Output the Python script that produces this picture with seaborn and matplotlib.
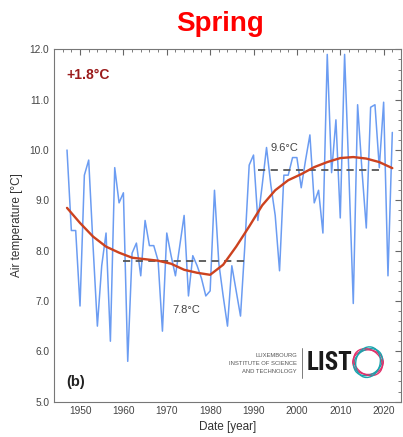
import matplotlib
matplotlib.use("Agg")
import matplotlib.pyplot as plt
import seaborn as sns
import pandas as pd
from matplotlib.patches import Ellipse
from matplotlib.ticker import MultipleLocator

# spring air temperature, Luxembourg
years = list(range(1947, 2023))
temps = [
    10.0, 8.4, 8.4, 6.9, 9.5, 9.8, 8.1, 6.5, 7.7, 8.35,   # 1947-1956
    6.2, 9.65, 8.95, 9.15, 5.8, 7.95, 8.15, 7.5, 8.6, 8.1,  # 1957-1966
    8.1, 7.8, 6.4, 8.35, 7.9, 7.5, 8.1, 8.7, 7.1, 7.9,     # 1967-1976
    7.7, 7.45, 7.1, 7.2, 9.2, 7.75, 7.1, 6.5, 7.7, 7.2,    # 1977-1986
    6.7, 8.1, 9.7, 9.9, 8.6, 9.3, 10.05, 9.3, 8.7, 7.6,    # 1987-1996
    9.5, 9.5, 9.85, 9.85, 9.25, 9.8, 10.3, 8.95, 9.2, 8.35,  # 1997-2006
    11.9, 9.55, 10.6, 8.65, 11.9, 9.5, 6.95, 10.9, 9.6, 8.45,  # 2007-2016
    10.85, 10.9, 9.65, 10.95, 7.5, 10.35,                  # 2017-2022
]

# smoothed trend (red curve)
trend_years = [1947, 1950, 1953, 1956, 1959, 1962, 1965, 1968, 1971, 1974,
               1977, 1980, 1983, 1986, 1989, 1992, 1995, 1998, 2001, 2004,
               2007, 2010, 2013, 2016, 2019, 2022]
trend_vals = [8.85, 8.55, 8.28, 8.08, 7.96, 7.86, 7.83, 7.80, 7.74, 7.62,
              7.56, 7.52, 7.72, 8.08, 8.48, 8.90, 9.20, 9.40, 9.52, 9.66,
              9.76, 9.84, 9.86, 9.83, 9.76, 9.64]

# reference period means
ref_periods = [(1960, 1989), (1991, 2020)]
ref_means = [7.8, 9.6]

df = pd.DataFrame({"year": years, "temp": temps})
df_trend = pd.DataFrame({"year": trend_years, "temp": trend_vals})

sns.set_style("white")
plt.rcParams["font.family"] = ["Liberation Sans", "DejaVu Sans"]

fig = plt.figure(figsize=(4.03, 4.37), dpi=100)
ax = fig.add_axes([0.134, 0.081, 0.861, 0.806])

sns.lineplot(data=df, x="year", y="temp", ax=ax, color="#6b9cf2", linewidth=1.1)
for (x0, x1), m in zip(ref_periods, ref_means):
    ax.plot([x0, x1], [m, m], color="#555555", linestyle=(0, (4, 3)), linewidth=1.3)
sns.lineplot(data=df_trend, x="year", y="temp", ax=ax, color="#cc421f", linewidth=1.7)

ax.set_xlim(1944, 2024)
ax.set_ylim(5, 12)
ax.xaxis.set_major_locator(MultipleLocator(10))
ax.xaxis.set_minor_locator(MultipleLocator(2))
ax.yaxis.set_major_locator(MultipleLocator(1))
ax.yaxis.set_minor_locator(MultipleLocator(0.2))
ax.set_yticklabels([f"{v:.1f}" for v in ax.get_yticks()])
ax.tick_params(which="both", direction="in", top=True, right=True,
               color="#666666", labelsize=7.3, labelcolor="#444444")
ax.tick_params(which="major", length=4, width=0.8)
ax.tick_params(which="minor", length=2, width=0.6)
for s in ax.spines.values():
    s.set_color("#777777")
    s.set_linewidth(0.8)

ax.set_xlabel("Date [year]", fontsize=8.5, color="#333333", labelpad=3)
ax.set_ylabel("Air temperature [°C]", fontsize=8.5, color="#333333", labelpad=5)

fig.text(0.546, 0.945, "Spring", color="#ff0000", fontsize=20,
         fontweight="bold", ha="center", va="center")

ax.text(0.035, 0.928, "+1.8°C", transform=ax.transAxes, color="#9b1b1b",
        fontsize=10, fontweight="bold", ha="left", va="center")
ax.text(1994, 10.04, "9.6°C", color="#444444", fontsize=8, ha="left", va="center")
ax.text(1971.2, 6.83, "7.8°C", color="#444444", fontsize=8, ha="left", va="center")
ax.text(0.036, 0.055, "(b)", transform=ax.transAxes, color="#222222",
        fontsize=10.5, fontweight="bold", ha="left", va="center")

# LIST logo
for i, line in enumerate(["LUXEMBOURG", "INSTITUTE OF SCIENCE", "AND TECHNOLOGY"]):
    ax.text(0.700, 0.132 - i * 0.023, line, transform=ax.transAxes,
            fontsize=4.2, color="#555555", ha="right", va="center")
ax.plot([0.715, 0.715], [0.068, 0.152], transform=ax.transAxes,
        color="#666666", linewidth=0.6)
ax.text(0.727, 0.110, "LIST", transform=ax.transAxes, fontsize=18,
        fontweight="bold", fontstretch="condensed", color="#1a1a1a",
        ha="left", va="center",
        family=["Roboto Condensed", "Liberation Sans Narrow", "Noto Sans", "DejaVu Sans"])
for ang, col in [(0, "#e0306a"), (35, "#1ba3ad"), (-35, "#e0306a"), (75, "#1ba3ad")]:
    ax.add_patch(Ellipse((0.905, 0.112), 0.088, 0.07, angle=ang,
                         transform=ax.transAxes, fill=False, edgecolor=col,
                         linewidth=1.0))

fig.savefig("out.png", dpi=100, facecolor="white")
